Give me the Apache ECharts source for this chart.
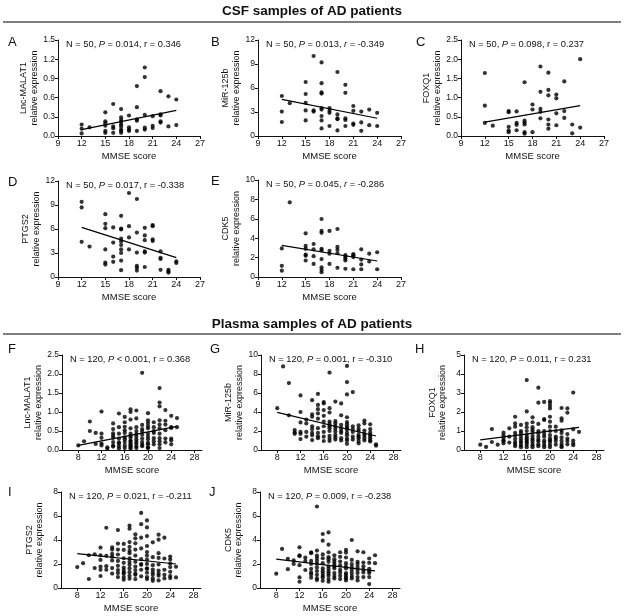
<!DOCTYPE html>
<html>
<head>
<meta charset="utf-8">
<script src="https://cdn.jsdelivr.net/npm/echarts@6/dist/echarts.min.js"></script>
<style>
html,body{margin:0;padding:0;background:#fff;}
#main{width:624px;height:616px;}
</style>
</head>
<body>
<div id="main"></div>
<script>
// 每组数据: [MMSE评分, [该评分下的相对表达量...]]
// CSF 样本 (N = 50)
var csfMalat = [[12,[0.18,0.115,0.04]],[13,[0.135]],[15,[0.37,0.23,0.2,0.16,0.08,0.05]],[16,[0.5,0.15,0.12,0.05]],
  [17,[0.42,0.29,0.25,0.22,0.18,0.15,0.1,0.08,0.05]],[18,[0.32,0.135,0.1,0.08]],[19,[0.78,0.45,0.26,0.24,0.08]],
  [20,[1.07,0.92,0.33,0.13,0.1]],[21,[0.31,0.16,0.125]],[22,[0.7,0.34,0.32,0.23,0.21]],[23,[0.62,0.15]],[24,[0.57,0.17]]];
var csfMir = [[12,[5.0,3.05,1.75]],[13,[4.1]],[15,[6.75,5.25,4.15,3.2,1.95]],[16,[10.0,3.2,3.05]],
  [17,[9.2,6.6,5.45,5.3,3.5,3.3,2.5,1.95,0.95]],[18,[3.5,3.15,2.9,1.25]],[19,[8.0,2.7,2.2,2.1,0.7]],
  [20,[6.4,5.4,2.2,2.0,1.25]],[21,[3.75,3.15,1.55,1.4]],[22,[3.05,1.7,0.65]],[23,[3.3,1.35]],[24,[2.9,1.25]]];
var csfFoxq = [[12,[1.64,0.79,0.34]],[13,[0.27]],[15,[0.65,0.62,0.24,0.14,0.1]],[16,[0.64,0.34,0.29,0.15]],
  [17,[1.4,0.4,0.35,0.3,0.1,0.06]],[18,[0.82,0.69,0.1]],[19,[1.81,1.15,0.71,0.63,0.46]],
  [20,[1.65,1.2,1.06,0.43,0.3,0.19]],[21,[1.08,0.98,0.59,0.28]],[22,[1.42,0.65,0.47]],[23,[0.3,0.07]],[24,[2.0,0.22]]];
var csfPtgs = [[12,[9.4,8.7,4.4]],[13,[3.8]],[15,[7.85,6.65,6.1,3.45,1.8,1.55]],[16,[6.2,4.3,2.55,1.9]],
  [17,[7.65,6.05,5.95,4.8,4.45,4.0,3.45,3.0,2.05,0.85]],[18,[10.5,6.35,4.95,3.45]],[19,[9.75,5.55,3.05,1.4,1.15,0.8]],
  [20,[6.15,5.2,4.6,3.2,3.05,1.25]],[21,[6.5,6.35,4.7,4.5]],[22,[3.2,2.4,2.25,0.9]],[23,[0.9,0.7,0.55]],[24,[1.95,1.75]]];
var csfCdk = [[12,[2.95,1.15,0.65]],[13,[7.7]],[15,[4.5,3.2,2.9,2.3,2.2,1.7]],[16,[3.4,2.85,2.15,1.35]],
  [17,[5.98,4.75,4.55,2.9,2.75,1.85,1.0,0.75,0.5]],[18,[4.75,2.7,2.4,1.35]],[19,[4.95,3.1,2.8,2.45,0.95]],
  [20,[2.25,2.1,1.9,1.7,0.85]],[21,[2.35,2.25,2.05,0.8]],[22,[2.85,1.8,1.3,0.8]],[23,[2.4,1.6]],[24,[2.55,0.8]]];

// 血浆样本 (N = 120)
var plMalat = [[8,[0.12]],[9,[0.23]],[10,[0.75,0.5]],[11,[0.45,0.16]],[12,[1.01,0.43,0.32,0.17,0.12]],[13,[0.07,0.03]],
  [14,[0.7,0.55,0.44,0.38,0.32,0.21,0.12,0.09]],[15,[0.96,0.6,0.43,0.3,0.2,0.17,0.1,0.04]],
  [16,[0.87,0.73,0.61,0.52,0.45,0.33,0.28,0.21,0.12,0.05]],
  [17,[1.07,1.0,0.8,0.57,0.43,0.37,0.32,0.25,0.22,0.17,0.13,0.1,0.06,0.03]],
  [18,[1.04,0.83,0.6,0.5,0.42,0.35,0.28,0.22,0.17,0.1,0.05]],[19,[2.03,0.66,0.55,0.49,0.4,0.3,0.21,0.14,0.1]],
  [20,[0.97,0.78,0.71,0.63,0.57,0.43,0.35,0.28,0.19,0.15,0.07,0.05]],[21,[0.73,0.6,0.5,0.45,0.31,0.23,0.15]],
  [22,[1.63,1.25,1.15,0.78,0.67,0.57,0.43,0.31,0.23,0.15,0.05]],[23,[1.05,0.77,0.67,0.52,0.3,0.2]],
  [24,[0.9,0.6,0.58,0.3,0.25,0.15]],[25,[0.84,0.6]]];
var plMir = [[8,[4.4]],[9,[8.8]],[10,[7.05,3.65]],[11,[2.1,1.85,1.7]],[12,[5.75,4.0,2.9,1.9,1.7,1.15]],[13,[3.2,2.8,1.9,1.4]],
  [14,[5.25,3.75,3.5,2.5,2.2,1.8,1.55,1.05]],[15,[5.9,4.75,4.3,3.85,3.3,2.3,1.8,1.45,1.25]],
  [16,[5.05,4.9,4.2,3.6,3.0,2.5,1.9,1.4,0.95]],[17,[8.15,4.4,3.95,3.0,2.75,2.5,2.3,2.0,1.5,1.2,0.95]],
  [18,[5.1,3.05,2.8,2.5,2.25,1.95,1.6,1.35,1.1]],[19,[4.9,3.65,2.65,2.3,2.0,1.8,1.25,1.0]],
  [20,[8.85,7.15,5.85,3.45,2.95,2.7,2.45,2.3,2.15,1.8,1.55,1.2,1.0,0.65]],[21,[6.1,2.5,2.2,1.9,1.4,1.1]],
  [22,[2.6,2.25,2.0,1.6,1.4,1.25,0.95,0.7]],[23,[3.1,2.8,2.05,1.7,1.5,1.25,1.0]],
  [24,[2.7,2.2,1.85,1.6,1.4,1.2,1.0,0.9]],[25,[0.6,0.45]]];
var plFoxq = [[8,[0.28]],[9,[0.16]],[10,[1.1,0.42]],[11,[0.28]],[12,[0.91,0.77,0.63,0.5,0.47,0.35]],[13,[1.14,0.7,0.39]],
  [14,[1.75,1.4,1.23,0.9,0.75,0.58,0.42,0.32,0.2]],[15,[1.32,1.0,0.9,0.75,0.6,0.47,0.37,0.25,0.15]],
  [16,[3.68,2.03,1.39,1.2,1.0,0.79,0.67,0.56,0.47,0.39,0.28,0.15]],
  [17,[1.72,1.46,1.2,1.07,0.95,0.75,0.6,0.51,0.37,0.25,0.15]],[18,[3.28,2.49,1.37,1.0,0.88,0.7,0.55,0.46,0.3,0.2]],
  [19,[2.53,1.63,1.58,1.0,0.84,0.7,0.5,0.39,0.25,0.15]],
  [20,[2.58,2.47,2.33,2.19,1.75,1.49,1.23,1.0,0.79,0.61,0.5,0.44,0.28,0.15]],[21,[1.23,1.0,0.7,0.6,0.47,0.28]],
  [22,[2.21,1.67,1.54,1.04,0.9,0.67,0.49,0.32,0.21,0.15]],[23,[2.19,1.96,0.84,0.6,0.47,0.3]],
  [24,[3.02,1.09,0.5,0.35,0.25]],[25,[0.95]]];
var plPtgs = [[8,[1.74]],[9,[2.07]],[10,[2.73,0.75]],[11,[2.81,1.66]],[12,[3.37,2.73,2.34,1.79,1.52,1.0]],[13,[5.02,2.68,1.82,1.52]],
  [14,[3.39,3.2,2.84,2.6,2.29,1.66,1.2]],[15,[4.83,3.7,3.2,2.79,2.26,1.85,1.5,1.24,0.91]],
  [16,[3.67,3.17,2.48,2.1,1.71,1.49,1.3,1.19,0.91,0.69]],
  [17,[5.21,4.94,3.83,3.42,3.1,2.9,2.48,2.18,1.93,1.63,1.32,1.02,0.77]],
  [18,[4.47,4.14,3.72,3.2,2.7,2.18,1.79,1.49,1.19,1.1,0.74]],[19,[6.26,5.32,4.19,3.3,2.4,2.0,1.93,1.52,0.97]],
  [20,[5.63,5.05,4.33,3.5,3.0,2.7,2.37,2.01,1.63,1.6,1.27,0.91,0.74]],[21,[3.81,2.57,1.9,1.54,1.3,1.1,0.8,0.6]],
  [22,[4.44,4.03,2.9,2.51,1.96,1.46,1.2,1.02,0.63]],[23,[4.19,2.46,1.52,1.1,0.8]],
  [24,[2.62,2.37,2.04,1.74,1.35,1.0,0.83]],[25,[1.77,0.88]]];
var plCdk = [[8,[1.19]],[9,[3.26]],[10,[2.43,1.57]],[11,[2.3,2.01]],[12,[3.39,2.73,2.65,1.9,0.88,0.52]],[13,[2.54,2.26,1.5]],
  [14,[2.98,2.9,2.26,2.0,1.6,1.3,1.13,0.86]],[15,[6.79,3.12,2.7,2.5,2.26,2.01,1.7,1.41,1.1,0.8,0.66]],
  [16,[4.5,3.94,2.8,2.48,2.07,1.63,1.4,1.19,1.0,0.88,0.6]],
  [17,[4.63,3.61,2.98,2.57,2.4,2.18,1.79,1.6,1.38,1.2,1.02,0.74,0.52]],[18,[2.73,2.4,2.2,2.01,1.8,1.63,1.24,1.0,0.8]],
  [19,[2.98,2.6,2.2,1.88,1.52,1.3,1.02,0.74]],[20,[3.17,2.95,2.54,2.07,1.8,1.63,1.24,1.1,0.91,0.8,0.63]],
  [21,[4.0,2.34,2.0,1.74,1.5,1.24,1.0,0.8]],[22,[3.06,2.18,2.0,1.74,1.5,1.24,0.91,0.63]],[23,[2.98,2.12,1.8,1.52,1.3,0.91]],
  [24,[2.46,2.1,1.6,1.4,1.24,0.91,0.33]],[25,[2.73,2.07]]];

// 回归线的两个端点(从图上读的)
var fitLines = [
  [[12,0.10],[24,0.40]], [[12,4.57],[24,2.22]], [[12,0.36],[24,0.79]], [[12,6.2],[24,2.42]], [[12,3.26],[24,1.65]],
  [[8,0.12],[25,0.62]], [[8,3.96],[25,1.47]], [[8,0.53],[25,1.19]], [[8,2.87],[25,2.0]], [[8,2.4],[25,1.43]]
];

var groups = [csfMalat,csfMir,csfFoxq,csfPtgs,csfCdk,plMalat,plMir,plFoxq,plPtgs,plCdk];
var letters = ['A','B','C','D','E','F','G','H','I','J'];
var genes = ['Lnc-MALAT1','MiR-125b','FOXQ1','PTGS2','CDK5','Lnc-MALAT1','MiR-125b','FOXQ1','PTGS2','CDK5'];
var nText = ['50','50','50','50','50','120','120','120','120','120'];
var pText = ['= 0.014','= 0.013','= 0.098','= 0.017','= 0.045','< 0.001','= 0.001','= 0.011','= 0.021','= 0.009'];
var rText = ['0.346','-0.349','0.237','-0.338','-0.286','0.368','-0.310','0.231','-0.211','-0.238'];
var rItalic = [0,1,0,0,1,0,0,0,0,0];
var yMax = [1.5,12,2.5,12,10,2.5,10,5,8,8];
var yStep = [0.3,3,0.5,3,2,0.5,2,1,2,2];
var yDigits = [1,0,1,0,0,1,0,0,0,0];
var plasmaTicks = [8,12,16,20,24,28];

// 每个小图的位置 [left, top, width, height]
var pos = [
  [58,40,142,96],[258,40,143,96],[461,40,143,96],
  [58,181,142,96],[258,180,143,97],
  [62,355,140,95],[261,355,140,95],[464,355,140,95],
  [61,492,140,96],[260,492,140,96]
];
// 字母 A-J 的位置
var letterPos = [[8,36],[211,36],[416,36],[8,176],[211,175],[8,343],[210,343],[415,343],[8,486],[209,486]];

var FONT = "'Liberation Sans', Arial, sans-serif";

function flat(g){
  var out=[];
  g.forEach(function(item){
    item[1].forEach(function(v){ out.push([item[0],v]) })
  });
  return out
}

var grids=[],xAxes=[],yAxes=[],series=[];
var titles=[
  {text:'CSF samples of AD patients',left:'center',top:4,padding:0,textStyle:{fontSize:13.5,fontWeight:'bold',color:'#111',fontFamily:FONT}},
  {text:'Plasma samples of AD patients',left:'center',top:317,padding:0,textStyle:{fontSize:13.5,fontWeight:'bold',color:'#111',fontFamily:FONT}}
];

for(var i=0;i<10;i++){
  var p=pos[i];
  var csf=i<5;
  grids.push({left:p[0],top:p[1],width:p[2],height:p[3],containLabel:false});
  var xa={
    gridIndex:i,type:'value',
    min:csf?9:5.2,max:csf?27:29.3,
    name:'MMSE score',nameLocation:'middle',nameGap:15,
    nameTextStyle:{fontSize:9.5,color:'#111',fontFamily:FONT},
    axisLine:{onZero:false,lineStyle:{color:'#111',width:1}},
    axisTick:{length:3,lineStyle:{color:'#111'}},
    axisLabel:{fontSize:9,color:'#111',margin:3,fontFamily:FONT},
    splitLine:{show:false}
  };
  if(csf){ xa.interval=3 }
  else {
    xa.axisTick.customValues=plasmaTicks;
    xa.axisLabel.customValues=plasmaTicks;
  }
  xAxes.push(xa);
  (function(d){
    yAxes.push({
      gridIndex:i,type:'value',min:0,max:yMax[i],interval:yStep[i],
      name:genes[i]+'\nrelative expression',nameLocation:'middle',nameGap:16,
      nameTextStyle:{fontSize:9,lineHeight:10.5,color:'#111',fontFamily:FONT},
      axisLine:{show:true,lineStyle:{color:'#111',width:1}},
      axisTick:{show:true,length:3,lineStyle:{color:'#111'}},
      axisLabel:{fontSize:8.5,color:'#111',margin:3,fontFamily:FONT,formatter:function(v){return v.toFixed(d)}},
      splitLine:{show:false}
    });
  })(yDigits[i]);
  series.push({
    type:'scatter',xAxisIndex:i,yAxisIndex:i,data:flat(groups[i]),
    symbolSize:4.2,itemStyle:{color:'#000'},silent:true
  });
  series.push({
    type:'line',xAxisIndex:i,yAxisIndex:i,data:fitLines[i],
    symbol:'none',lineStyle:{color:'#000',width:1.2},silent:true,z:3
  });
  // 小图字母
  titles.push({text:letters[i],left:letterPos[i][0],top:letterPos[i][1],padding:0,
    textStyle:{fontSize:13,fontWeight:'normal',color:'#111',fontFamily:FONT}});
  // 统计信息 N, P, r
  var rTag=rItalic[i]?'i':'t';
  titles.push({
    text:'{t|N = '+nText[i]+', }{i|P}{t| '+pText[i]+', }{'+rTag+'|r}{t| = '+rText[i]+'}',
    left:p[0]+8,top:p[1]+0,padding:0,
    textStyle:{fontWeight:'normal',rich:{
      t:{fontSize:9.3,fontWeight:'normal',color:'#111',fontFamily:FONT},
      i:{fontSize:9.3,fontWeight:'normal',color:'#111',fontStyle:'italic',fontFamily:FONT}
    }}
  });
}

var myChart=echarts.init(document.getElementById('main'));
myChart.setOption({
  backgroundColor:'#fff',
  animation:false,
  title:titles,
  grid:grids,
  xAxis:xAxes,
  yAxis:yAxes,
  series:series,
  graphic:[
    {type:'line',shape:{x1:3,y1:22,x2:621,y2:22},style:{stroke:'#555',lineWidth:1.5}},
    {type:'line',shape:{x1:3,y1:334,x2:621,y2:334},style:{stroke:'#555',lineWidth:1.5}}
  ]
});
</script>
</body>
</html>
